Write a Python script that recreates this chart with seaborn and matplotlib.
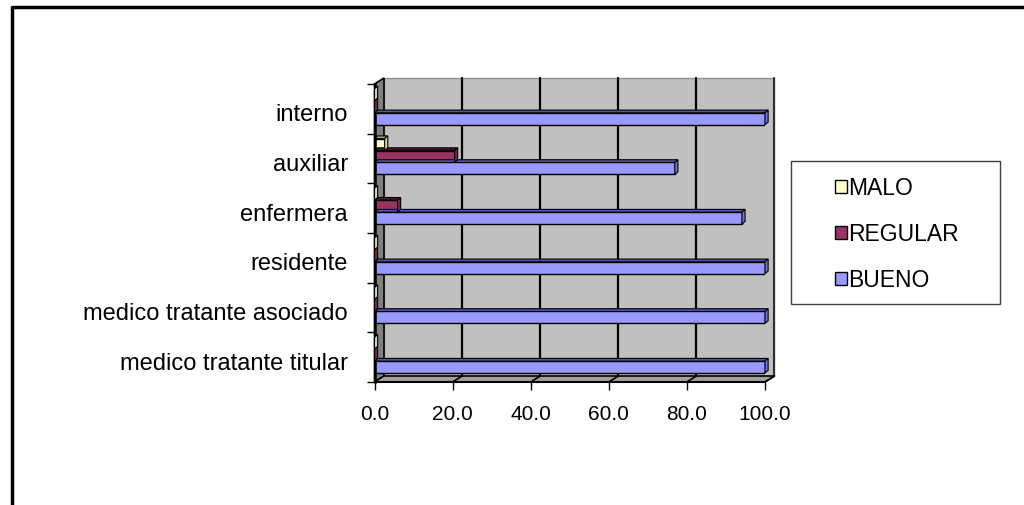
import numpy as np
import pandas as pd
import matplotlib
matplotlib.use("Agg")
import matplotlib.pyplot as plt
import matplotlib.transforms as mtransforms
from matplotlib.patches import Polygon, Rectangle, Patch
from matplotlib.lines import Line2D
import seaborn as sns

# Survey results per staff role (percent)
categories = ["interno", "auxiliar", "enfermera", "residente",
              "medico tratante asociado", "medico tratante titular"]
bueno = [100.0, 76.9, 94.1, 100.0, 100.0, 100.0]
regular = [0.0, 20.5, 5.9, 0.0, 0.0, 0.0]
malo = [0.0, 2.6, 0.0, 0.0, 0.0, 0.0]
series = ["MALO", "REGULAR", "BUENO"]
x_ticks = [0, 20, 40, 60, 80, 100]
x_tick_labels = ["0.0", "20.0", "40.0", "60.0", "80.0", "100.0"]

colors = {"MALO": "#FFFFCC", "REGULAR": "#993366", "BUENO": "#9999FF"}
top_colors = {"MALO": "#A8A888", "REGULAR": "#4A1832", "BUENO": "#5555A8"}
end_colors = {"MALO": "#D8D8A8", "REGULAR": "#702848", "BUENO": "#7474D4"}

df = pd.DataFrame({
    "rol": categories * 3,
    "valor": malo + regular + bueno,
    "serie": ["MALO"] * 6 + ["REGULAR"] * 6 + ["BUENO"] * 6,
})

sns.set_theme(style="white")
plt.rcParams["font.family"] = ["Liberation Sans", "DejaVu Sans"]
plt.rcParams["text.color"] = "black"
plt.rcParams["xtick.color"] = "black"
plt.rcParams["ytick.color"] = "black"
plt.rcParams["xtick.labelcolor"] = "black"
plt.rcParams["ytick.labelcolor"] = "black"

fig = plt.figure(figsize=(10.24, 5.06), dpi=100)
ax = fig.add_axes([374.5 / 1024, (506 - 383) / 506, (765 - 374.5) / 1024, (383 - 85) / 506])
ax.set_facecolor("none")

# depth of the walls and of the bars, in data units
dx, dy = 2.43, -0.121
bdx, bdy = 0.8, -0.055

# back wall, side wall and floor
ax.add_patch(Rectangle((dx, -0.5 + dy), 100, 6, facecolor="#C0C0C0",
                       edgecolor="#909090", lw=1, zorder=0.3, clip_on=False))
ax.add_patch(Polygon([(0, -0.5), (dx, -0.5 + dy), (dx, 5.5 + dy), (0, 5.5)],
                     closed=True, facecolor="#808080", edgecolor="black",
                     lw=1.2, zorder=0.4, clip_on=False))
ax.add_patch(Polygon([(0, 5.5), (100, 5.5), (100 + dx, 5.5 + dy), (dx, 5.5 + dy)],
                     closed=True, facecolor="#A0A0A0", edgecolor="black",
                     lw=1.2, zorder=0.4, clip_on=False))
ax.plot([100 + dx, 100 + dx], [-0.5 + dy, 5.5 + dy], color="#303030", lw=1.5,
        zorder=0.5, clip_on=False)

# gridlines on back wall and across the floor
for v in x_ticks[1:-1]:
    ax.plot([v + dx, v + dx], [-0.5 + dy, 5.5 + dy], color="black", lw=1.6,
            zorder=0.5, clip_on=False)
for v in x_ticks[1:]:
    ax.plot([v + dx, v], [5.5 + dy, 5.5], color="black", lw=1.2,
            zorder=0.5, clip_on=False)

sns.barplot(data=df, y="rol", x="valor", hue="serie", hue_order=series,
            order=categories, orient="h", width=0.72, palette=colors,
            edgecolor="black", linewidth=1.0, saturation=1, legend=False,
            ax=ax, zorder=2)

# 3D faces on every bar
for container, name in zip(ax.containers, series):
    for p in container.patches:
        p.set_y(p.get_y() - 0.04)
        x0, y0, w, h = p.get_x(), p.get_y(), p.get_width(), p.get_height()
        top = Polygon([(x0, y0), (x0 + w, y0), (x0 + w + bdx, y0 + bdy), (x0 + bdx, y0 + bdy)],
                      closed=True, facecolor=top_colors[name], edgecolor="black",
                      lw=0.8, zorder=2.1, clip_on=False)
        end = Polygon([(x0 + w, y0), (x0 + w, y0 + h), (x0 + w + bdx, y0 + h + bdy),
                       (x0 + w + bdx, y0 + bdy)],
                      closed=True, facecolor=end_colors[name], edgecolor="black",
                      lw=0.8, zorder=3.5, clip_on=False)
        ax.add_patch(top)
        ax.add_patch(end)

ax.set_xlim(0, 100)
ax.set_ylim(5.5, -0.5)
ax.set_xlabel("")
ax.set_ylabel("")

for s in ["top", "right"]:
    ax.spines[s].set_visible(False)
ax.spines["left"].set_color("black")
ax.spines["left"].set_linewidth(1.8)
ax.spines["bottom"].set_color("black")
ax.spines["bottom"].set_linewidth(1.5)
ax.spines["left"].set_zorder(3)
ax.spines["bottom"].set_zorder(3)

ax.set_xticks(x_ticks)
ax.set_xticklabels(x_tick_labels, fontsize=15)
ax.tick_params(axis="x", which="major", direction="out", length=6, width=1,
               color="black", pad=10, bottom=True, labelcolor="black")
ax.set_yticks(range(len(categories)))
ax.set_yticklabels(categories, fontsize=17)
ax.tick_params(axis="y", which="major", length=0, pad=19, left=True,
               labelcolor="black")
shift_down = mtransforms.ScaledTranslation(0, -3 / 100, fig.dpi_scale_trans)
for lbl in ax.get_yticklabels():
    lbl.set_transform(lbl.get_transform() + shift_down)
ax.set_yticks(np.arange(-0.5, 6.0, 1.0), minor=True)
ax.tick_params(axis="y", which="minor", direction="out", length=6, width=1,
               color="black", left=True)

# legend with its own frame
fig.add_artist(Rectangle((791 / 1024, (506 - 305) / 506), (1000 - 791) / 1024,
                         (305 - 162) / 506, transform=fig.transFigure,
                         facecolor="white", edgecolor="#404040", lw=1))
handles = [Patch(facecolor=colors[s], edgecolor="black", lw=1) for s in series]
leg = fig.legend(handles, series, loc="upper left",
                 bbox_to_anchor=(824 / 1024, 1 - 166 / 506), frameon=False,
                 fontsize=16.5, handlelength=0.5, handleheight=0.5,
                 handletextpad=0.05, labelspacing=1.0, borderpad=0)
for t in leg.get_texts():
    t.set_color("black")

# outer border of the chart area
fig.add_artist(Line2D([12 / 1024, 12 / 1024, 1.0], [0.0, 1 - 8 / 506, 1 - 8 / 506],
                      transform=fig.transFigure, color="black", lw=2.5))

fig.savefig("out.png", dpi=100)
